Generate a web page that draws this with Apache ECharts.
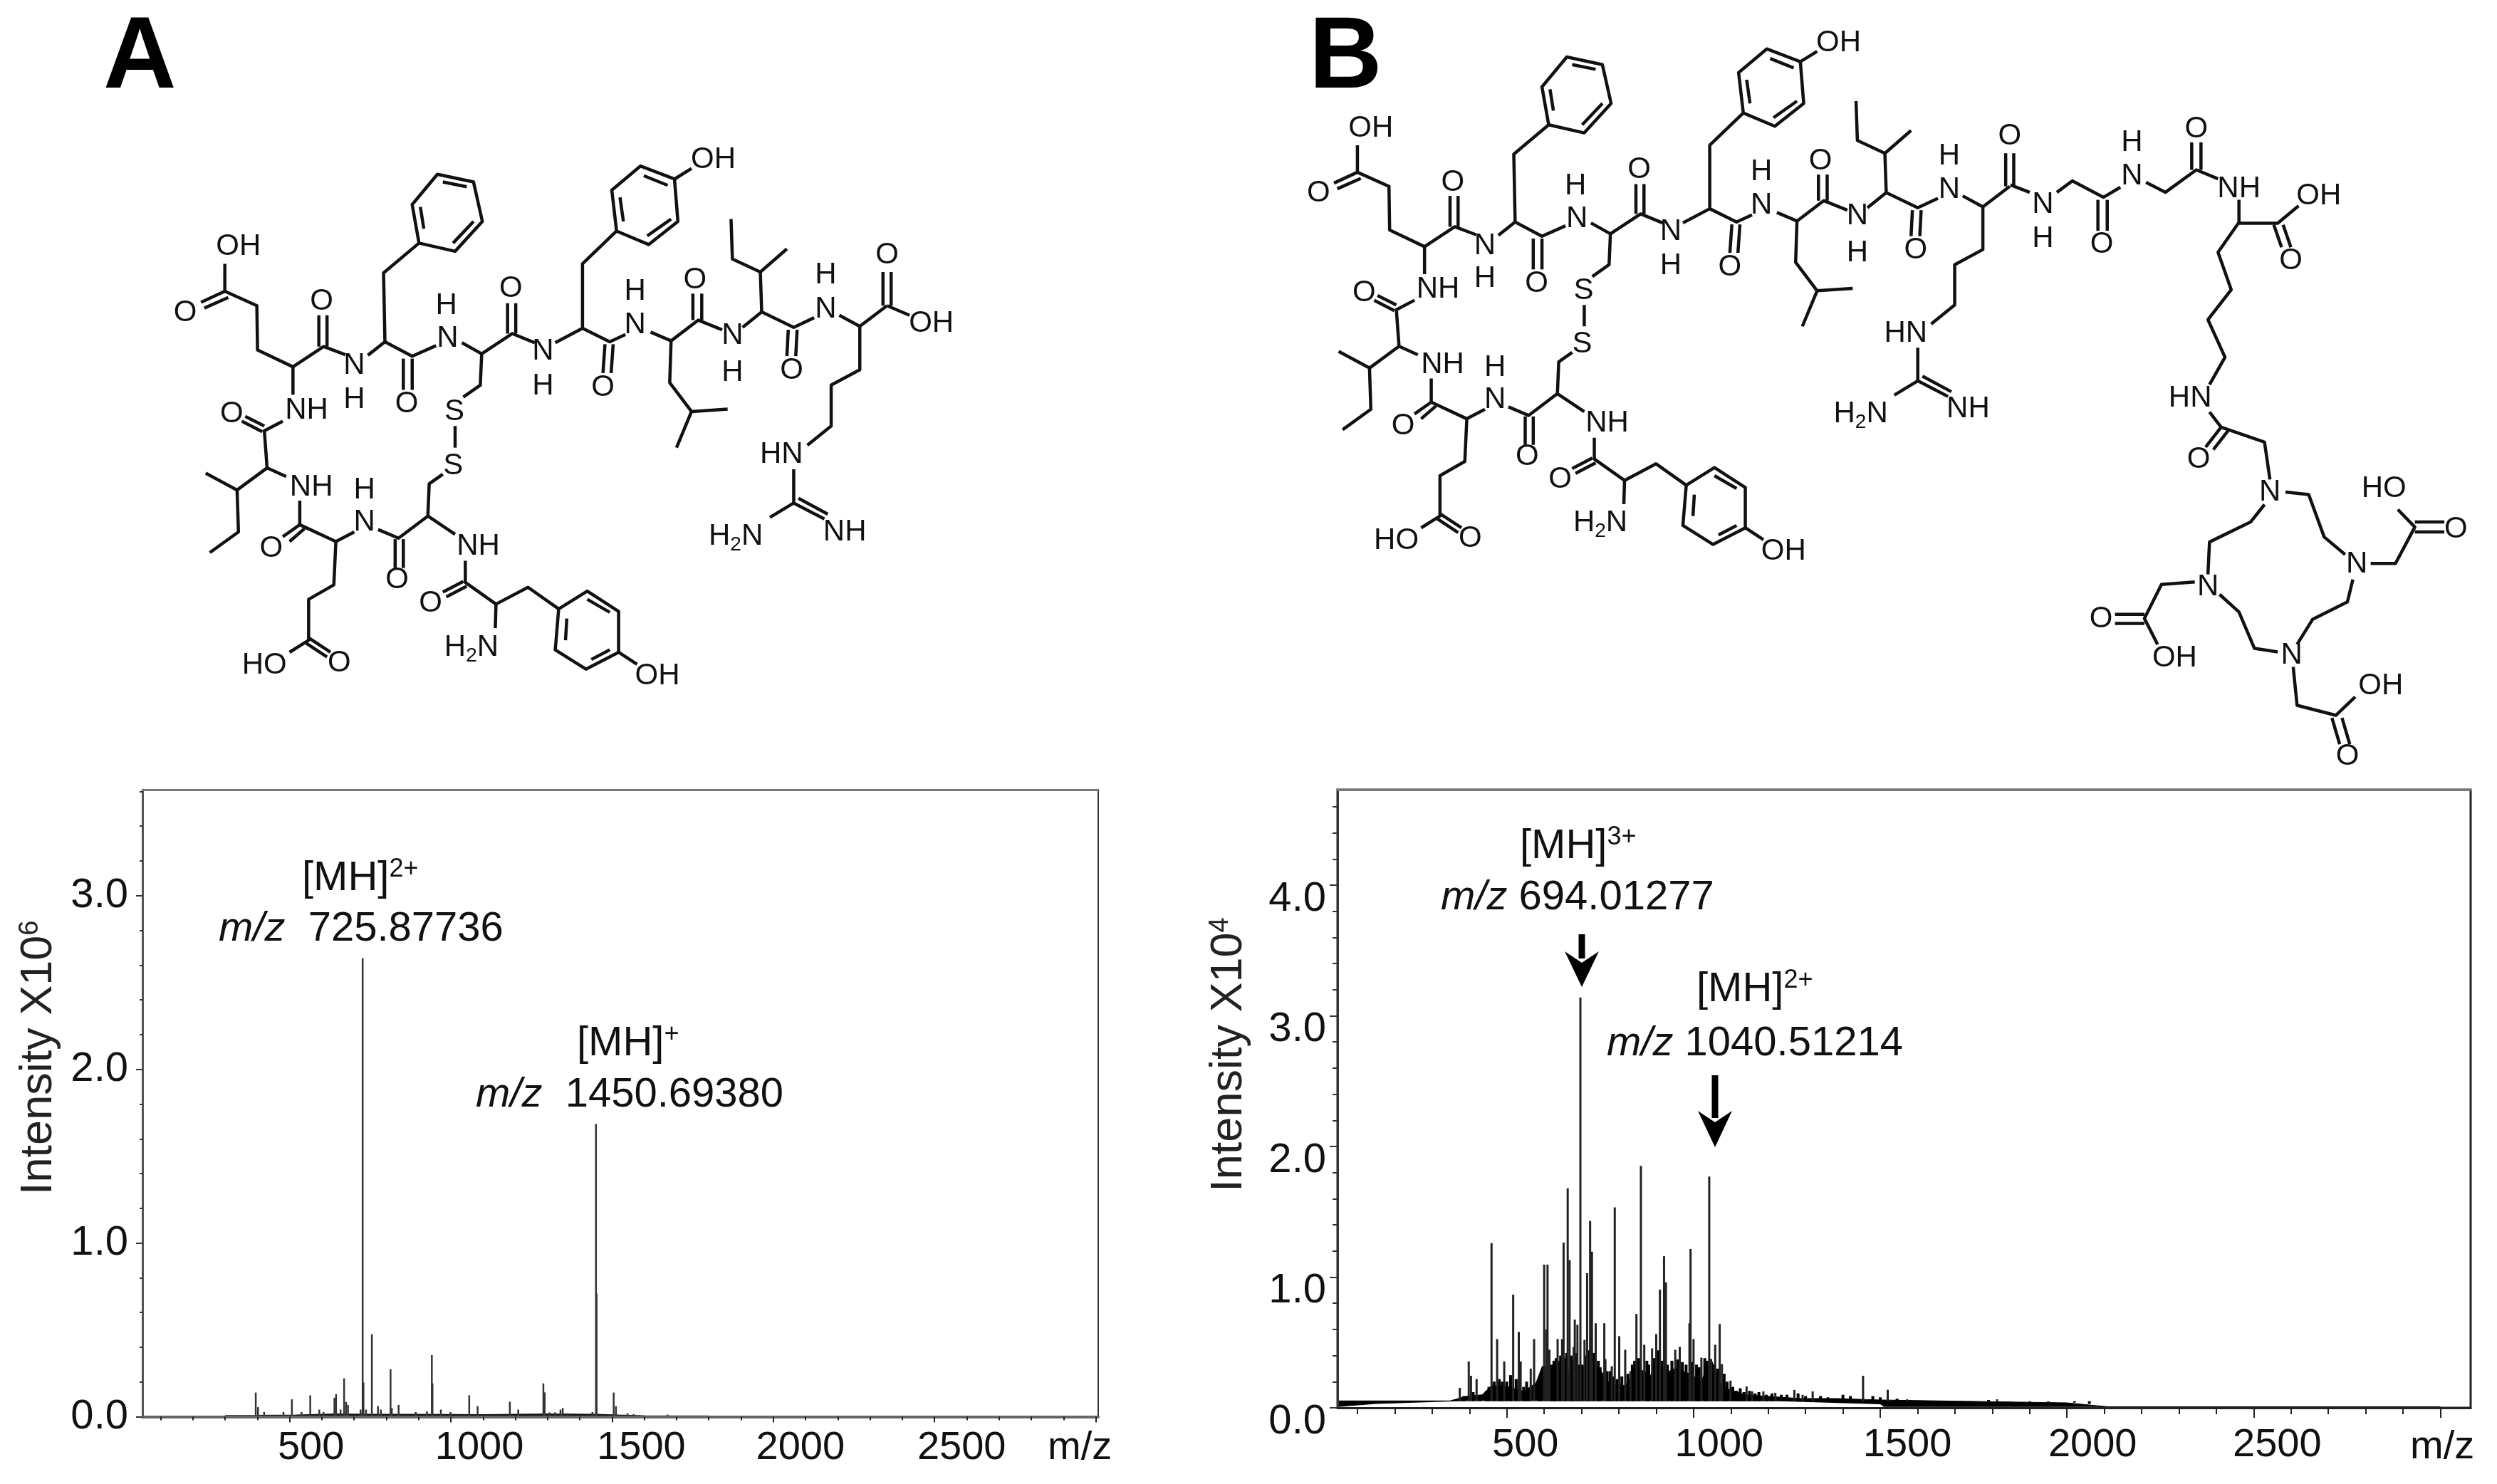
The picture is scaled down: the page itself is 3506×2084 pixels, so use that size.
<!DOCTYPE html>
<html style="height: 100%">
<head>
    <meta charset="utf-8">
    <style>html, body { margin: 0; background: #fff; }</style>
</head>
<body>
<div id="container" style="width: 3506px; height: 2084px"></div>
<script src="https://cdn.jsdelivr.net/npm/echarts@6/dist/echarts.min.js"></script>
<script type="text/javascript">
    // tick labels
    var xTickLabels = [500, 1000, 1500, 2000, 2500];
    var yTickLabelsA = [0, 1, 2, 3];
    var yTickLabelsB = [0, 1, 2, 3, 4];

    // panel A spectrum: m/z and intensity (x10^6)
    var mzA = [395, 402, 421, 481, 507, 537, 564, 592, 605, 639, 644, 658, 669, 675, 681, 720, 726.5, 729, 737, 755, 774, 783, 813, 817, 838, 891, 926, 941, 943, 969, 999, 1057, 1083, 1183, 1209, 1287, 1291, 1306, 1323, 1340, 1347, 1362, 1439, 1450, 1452, 1505, 1512, 1548, 1567, 1672];
    var intensityA = [0.139, 0.055, 0.027, 0.027, 0.10, 0.027, 0.123, 0.041, 0.027, 0.109, 0.13, 0.041, 0.221, 0.085, 0.068, 0.041, 2.64, 0.197, 0.041, 0.475, 0.061, 0.041, 0.273, 0.05, 0.068, 0.027, 0.03, 0.355, 0.192, 0.041, 0.027, 0.123, 0.061, 0.086, 0.041, 0.192, 0.14, 0.025, 0.025, 0.041, 0.05, 0.02, 0.027, 1.685, 0.709, 0.139, 0.06, 0.02, 0.015, 0.012];
    var noiseMzA = [300, 400, 520, 640, 760, 900, 1100, 1300, 1450, 1520, 1600, 1800];
    var noiseA = [0.003, 0.004, 0.006, 0.012, 0.01, 0.01, 0.008, 0.012, 0.01, 0.006, 0.002, 0.001];

    // panel B spectrum: m/z and intensity (x10^4)
    var mzB = [374, 398, 404, 419, 459, 474, 493, 517, 532, 537, 564, 573, 600, 606, 609, 614, 636, 648, 652, 663, 668, 679, 682, 689, 697, 708, 715, 723, 728, 738, 761, 764, 781, 789, 801, 817, 831, 847, 859, 868, 889, 900, 910, 921, 926, 951, 963, 989, 992, 1000, 1021, 1042, 1047, 1058, 1070, 1076, 1099, 1142, 1157, 1187, 1219, 1270, 1292, 1319, 1454, 1520, 1572, 1813, 1845];
    var intensityB = [0.153, 0.355, 0.245, 0.22, 1.26, 0.526, 0.355, 0.866, 0.58, 0.355, 0.30, 0.526, 1.096, 0.60, 1.096, 0.445, 0.526, 0.526, 1.265, 1.68, 1.13, 0.465, 0.675, 0.635, 3.14, 0.52, 1.03, 1.43, 1.195, 0.647, 0.647, 0.373, 0.318, 1.534, 0.548, 0.444, 0.28, 0.718, 1.852, 0.482, 0.455, 0.564, 0.904, 1.16, 0.96, 0.444, 0.466, 0.647, 1.216, 0.526, 0.384, 1.77, 0.373, 0.482, 0.641, 0.334, 0.208, 0.164, 0.126, 0.126, 0.115, 0.137, 0.099, 0.126, 0.245, 0.138, 0.065, 0.065, 0.04];
    // short peaks that make up the jagged top of the noise mass
    var grassMzB = [385, 410, 428, 445, 452, 466, 480, 488, 500, 510, 525, 545, 553, 558, 585, 592, 620, 626, 632, 640, 644, 656, 660, 672, 676, 686, 692, 702, 712, 718, 732, 745, 750, 768, 776, 786, 795, 808, 824, 836, 842, 853, 875, 880, 895, 906, 915, 930, 942, 958, 970, 980, 995, 1008, 1015, 1030, 1036, 1052, 1065, 1082, 1090, 1105, 1115, 1125, 1135, 1150, 1165, 1175, 1195, 1210, 1235, 1250, 1280, 1300, 1340, 1360, 1400, 1420, 1480, 1500, 1545, 1600, 1650, 1700, 1750, 1790, 1900, 1950, 2020, 2060];
    var grassB = [0.09, 0.12, 0.1, 0.13, 0.16, 0.2, 0.22, 0.2, 0.2, 0.25, 0.22, 0.16, 0.2, 0.15, 0.21, 0.26, 0.33, 0.36, 0.38, 0.36, 0.4, 0.38, 0.42, 0.4, 0.36, 0.42, 0.33, 0.33, 0.4, 0.44, 0.42, 0.36, 0.31, 0.28, 0.28, 0.24, 0.22, 0.24, 0.26, 0.33, 0.36, 0.38, 0.36, 0.33, 0.38, 0.44, 0.36, 0.33, 0.36, 0.37, 0.35, 0.33, 0.35, 0.33, 0.31, 0.38, 0.36, 0.33, 0.3, 0.26, 0.2, 0.16, 0.13, 0.15, 0.12, 0.13, 0.11, 0.12, 0.1, 0.11, 0.1, 0.1, 0.11, 0.09, 0.09, 0.08, 0.1, 0.09, 0.09, 0.08, 0.07, 0.055, 0.05, 0.05, 0.05, 0.06, 0.045, 0.045, 0.04, 0.03];
    // black noise band under the peaks
    var bandMzB = [47, 348, 391, 434, 459, 502, 544, 578, 595, 629, 646, 698, 723, 757, 774, 817, 851, 885, 902, 936, 953, 987, 1021, 1047, 1072, 1098, 1140, 1200, 1285, 1386, 1500, 2000, 2080, 2110, 3000];
    var bandTopB = [0.053, 0.053, 0.088, 0.099, 0.17, 0.163, 0.126, 0.19, 0.318, 0.307, 0.30, 0.275, 0.373, 0.263, 0.19, 0.17, 0.307, 0.247, 0.373, 0.28, 0.307, 0.263, 0.208, 0.373, 0.19, 0.137, 0.099, 0.088, 0.071, 0.071, 0.06, 0.038, 0.016, 0.008, 0.008];
    var bandLowMzB = [47, 150, 400, 1230, 1500, 1510, 2080, 2110, 3000];
    var bandLowB = [0.007, 0.03, 0.053, 0.05, 0.027, 0.007, 0.007, 0, 0];

    // bonds of the peptide, in a 1568x1568 tracing of panel A
    var peptideBonds = [
        [330,548,330,605,377,635,378,727,430,762,475,720,507,737], [295,628,330,605], [300,640,335,618],
        [468,655,468,720], [480,655,480,720], [430,762,430,820],
        [540,738,565,710,605,740,640,718], [565,710,563,567,615,505],
        [615,505,605,425,642,362,695,378,708,460,668,522,615,505], [622,475,617,430], [650,378,685,388], [695,460,665,505],
        [592,745,592,810], [605,745,605,810],
        [678,712,707,735,752,693,785,712], [745,630,745,693], [757,630,757,693],
        [707,735,705,800,680,825], [668,885,668,930], [650,985,630,1005,628,1072],
        [815,712,855,682,895,710,918,695], [855,682,855,548,905,480],
        [905,480,898,395,940,345,990,372,995,460,952,508,905,480], [915,460,910,410], [945,365,980,385], [985,455,950,490], [990,372,1015,350],
        [888,715,885,775], [900,715,897,775],
        [955,690,985,708,1025,665,1060,685], [1017,610,1017,665], [1030,610,1030,665],
        [985,708,983,795,1015,855,1068,850], [1015,855,993,930],
        [1090,680,1118,648,1165,680,1195,660], [1118,648,1116,565,1075,538,1073,455], [1116,565,1155,517],
        [1157,685,1155,740], [1170,685,1168,740],
        [1232,655,1262,678,1302,635], [1296,565,1296,635], [1308,565,1308,635],
        [1262,678,1262,768,1220,800,1220,885,1185,925], [1165,975,1165,1045,1130,1075], [1165,1045,1210,1078], [1172,1035,1215,1068],
        [415,875,388,895,392,972,420,990], [360,865,388,885], [355,875,385,897],
        [392,972,348,1018,302,983], [348,1018,350,1105,308,1148],
        [440,1040,440,1090,493,1125,520,1105], [440,1090,415,1115], [447,1098,425,1125],
        [493,1125,490,1215,453,1245,453,1330,425,1355], [453,1325,485,1355], [448,1335,480,1365],
        [555,1100,585,1118,628,1072,668,1110], [580,1120,580,1180], [592,1120,592,1180],
        [683,1165,683,1210,728,1255,775,1220,820,1265], [650,1230,680,1208], [655,1240,685,1218], [728,1255,727,1305],
        [820,1265,815,1350,860,1390,908,1355,908,1270,862,1228,820,1265], [830,1330,832,1285], [862,1245,895,1272], [868,1370,895,1350], [908,1355,935,1380]
    ];
    var peptideAtoms = [
        ['OH',350,513], ['O',272,650], ['O',472,627], ['N',520,760], ['H',520,830], ['NH',450,852],
        ['O',597,840], ['N',657,703], ['H',655,635], ['O',750,600], ['N',797,730], ['H',797,802],
        ['S',667,855], ['S',665,968], ['OH',1047,332], ['O',885,805], ['N',932,675], ['H',932,605],
        ['O',1020,582], ['N',1075,698], ['H',1075,775], ['O',1162,770], ['N',1212,642], ['H',1212,572],
        ['O',1302,530], ['HN',1147,945], ['NH',1240,1105], ['H{sub|2}N',1080,1115],
        ['O',340,860], ['NH',457,1012], ['O',398,1140], ['N',535,1085], ['H',535,1018],
        ['O',498,1378], ['HO',388,1382], ['O',583,1205], ['NH',702,1135], ['O',632,1253],
        ['H{sub|2}N',692,1345], ['OH',965,1405]
    ];
    // only panel A ends in a free acid
    var acidBondsA = [[1302,635,1335,655]];
    var acidAtomsA = [['OH',1367,672]];

    // Gly-Gly-Lys-DOTA arm, in a 1568x1568 tracing of panel B
    var linkerBonds = [
        [940,370,965,385], [1000,385,1020,362,1060,395,1082,375], [1053,400,1053,462], [1065,400,1065,462],
        [1115,365,1140,385,1180,340,1208,358], [1174,285,1174,340], [1186,285,1186,340],
        [1235,400,1235,445,1208,505,1225,580,1195,640,1217,715,1197,770], [1235,447,1285,447,1312,412],
        [1280,450,1290,495], [1292,450,1302,495],
        [1197,825,1212,855,1268,885,1275,960], [1212,855,1192,895], [1222,860,1202,900],
        [1295,985,1325,990,1345,1075,1372,1110], [1382,1160,1375,1205,1330,1240,1310,1290],
        [1285,1305,1255,1298,1235,1225,1210,1190], [1195,1150,1197,1085,1250,1045,1268,1010],
        [1405,1128,1437,1128,1462,1055,1440,1020], [1462,1045,1500,1045], [1462,1065,1500,1065],
        [1178,1165,1135,1170,1113,1238,1130,1290], [1075,1230,1113,1230], [1075,1248,1113,1248],
        [1305,1335,1310,1412,1360,1432,1385,1395], [1355,1437,1365,1490], [1368,1437,1378,1490]
    ];
    var linkerAtoms = [
        ['N',982,410], ['H',982,478], ['O',1058,490], ['N',1097,352], ['H',1097,285], ['O',1180,258],
        ['NH',1235,378], ['OH',1338,392], ['O',1302,522], ['HN',1172,797], ['O',1183,920],
        ['N',1275,985], ['N',1387,1130], ['N',1303,1312], ['N',1195,1175],
        ['HO',1422,978], ['O',1515,1060], ['O',1057,1240], ['OH',1152,1318], ['OH',1418,1373], ['O',1375,1515]
    ];

    var FONT = 'Liberation Sans';
    var dom = document.getElementById('container');
    var myChart = echarts.init(dom);

    function toA(p) { return [p[0] * 0.9566, p[1] * 0.676]; }
    function toBPeptide(p) { var a = toA(p); return [a[0] * 0.985 + 1595, a[1] * 0.985 - 161]; }
    function toBLinker(p) { return [1800 + p[0] * 1.088, p[1] * 0.7015]; }

    function drawBonds(bonds, map) {
        return bonds.map(function (b) {
            var pts = [];
            for (var i = 0; i < b.length; i += 2) {
                pts.push(map([b[i], b[i + 1]]));
            }
            return {
                type: 'polyline', silent: true,
                shape: { points: pts },
                style: { stroke: '#111', lineWidth: 4.5, fill: null, lineJoin: 'round' }
            };
        });
    }
    function drawAtoms(atoms, map) {
        return atoms.map(function (a) {
            var p = map([a[1], a[2]]);
            return {
                type: 'text', silent: true, x: p[0], y: p[1],
                style: {
                    text: a[0], fontFamily: FONT, fontSize: 42, fill: '#111', align: 'center', verticalAlign: 'middle',
                    rich: { sub: { fontFamily: FONT, fontSize: 28, fill: '#111', padding: [24, 0, 0, 0] } }
                }
            };
        });
    }
    // peak annotation, x is the left edge of the text
    function note(text, x, y) {
        return {
            type: 'text', silent: true, x: x, y: y,
            style: {
                text: text, fontFamily: FONT, fontSize: 58, fill: '#111', align: 'left', verticalAlign: 'middle',
                rich: {
                    sup: { fontFamily: FONT, fontSize: 36, fill: '#111', padding: [0, 0, 26, 0] },
                    it: { fontFamily: FONT, fontSize: 58, fontStyle: 'italic', fill: '#111' }
                }
            }
        };
    }
    function arrow(x, y1, y2, headTop) {
        return [
            { type: 'line', silent: true, shape: { x1: x, y1: y1, x2: x, y2: headTop + 10 }, style: { stroke: '#000', lineWidth: 9 } },
            { type: 'polygon', silent: true, shape: { points: [[x - 24, headTop], [x, headTop + 16], [x + 24, headTop], [x, y2]] }, style: { fill: '#000' } }
        ];
    }
    function panelTitle(text, x, y) {
        return {
            type: 'text', silent: true, x: x, y: y,
            style: { text: text, fontFamily: FONT, fontWeight: 'bold', fontSize: 142, fill: '#000', align: 'left', verticalAlign: 'middle' }
        };
    }

    function range(from, to, step) {
        var out = [];
        for (var v = from; v <= to + 1e-9; v += step) {
            out.push(Math.round(v * 10) / 10);
        }
        return out;
    }
    function toPairs(xs, ys) {
        return xs.map(function (x, i) { return [x, ys[i]]; });
    }

    // axes of one panel: the first of each kind carries minor ticks and labels, the second only major ticks
    function xAxesOf(grid, min, max, cfg) {
        var rich = {};
        xTickLabels.forEach(function (v, i) {
            rich['p' + v] = { fontFamily: FONT, fontSize: 56, color: '#111', padding: [0, 0, 0, cfg.shift[i] * 2] };
        });
        return [{
            type: 'value', gridIndex: grid, min: min, max: max, position: 'bottom', z: 10,
            name: '{n|m/z}', nameLocation: 'end', nameGap: cfg.nameGap, nameMoveOverlap: false,
            nameTextStyle: {
                rich: { n: { fontFamily: FONT, fontSize: 56, color: '#111', padding: [cfg.namePad, 0, 0, 0] } }
            },
            splitLine: { show: false },
            axisLine: { onZero: false, lineStyle: { color: cfg.lineColor, width: cfg.lineWidth } },
            axisTick: { length: cfg.minorLen, customValues: range(100, 3000, 100), lineStyle: { color: '#222', width: 2 } },
            axisLabel: {
                customValues: xTickLabels, margin: cfg.margin, hideOverlap: false,
                fontFamily: FONT, fontSize: 56, color: '#111',
                formatter: function (v) { return '{p' + v + '|' + v + '}'; }, rich: rich
            }
        }, {
            type: 'value', gridIndex: grid, min: min, max: max, position: 'bottom', z: 10,
            splitLine: { show: false }, axisLine: { show: false, onZero: false }, axisLabel: { show: false },
            axisTick: { length: cfg.majorLen, customValues: [500, 1000, 1500, 2000, 2500, 3000], lineStyle: { color: '#222', width: 2 } }
        }, {
            type: 'value', gridIndex: grid, min: min, max: max, position: 'top', z: 10,
            splitLine: { show: false }, axisTick: { show: false }, axisLabel: { show: false },
            axisLine: { onZero: false, lineStyle: { color: '#777', width: 3 } }
        }];
    }
    function yAxesOf(grid, max, labels, cfg) {
        return [{
            type: 'value', gridIndex: grid, min: 0, max: max, position: 'left', z: 10,
            name: '{t|Intensity X10}{s|' + cfg.power + '}', nameLocation: 'middle', nameGap: cfg.nameGap, nameRotate: 90,
            nameMoveOverlap: false,
            nameTextStyle: {
                padding: [0, 0, 0, cfg.nameShift * 2],
                rich: {
                    t: { fontFamily: FONT, fontSize: 63, color: '#222' },
                    s: { fontFamily: FONT, fontSize: 38, color: '#222', padding: [0, 0, 24, 0] }
                }
            },
            splitLine: { show: false },
            axisLine: { onZero: false, lineStyle: { color: cfg.lineColor, width: 3 } },
            axisTick: { length: cfg.minorLen, customValues: range(0, max, 0.2), lineStyle: { color: '#333', width: 2 } },
            axisLabel: {
                customValues: labels, margin: cfg.margin, fontFamily: FONT, fontSize: 58, color: '#111',
                formatter: function (v) { return '{d|' + v.toFixed(1) + '}'; },
                rich: { d: { fontFamily: FONT, fontSize: 58, color: '#111', padding: [cfg.labelDrop * 2, 0, 0, 0] } }
            }
        }, {
            type: 'value', gridIndex: grid, min: 0, max: max, position: 'left', z: 10,
            splitLine: { show: false }, axisLine: { show: false, onZero: false }, axisLabel: { show: false },
            axisTick: { length: cfg.majorLen, customValues: labels, lineStyle: { color: '#333', width: 2 } }
        }];
    }

    function stickSeries(xIndex, yIndex, data, base, width, color) {
        return {
            type: 'custom', xAxisIndex: xIndex, yAxisIndex: yIndex, z: 5,
            data: data,
            encode: { x: 0, y: 1 },
            renderItem: function (params, api) {
                var top = api.coord([api.value(0), api.value(1)]);
                var foot = api.coord([api.value(0), base]);
                return {
                    type: 'line',
                    shape: { x1: top[0], y1: top[1], x2: foot[0], y2: foot[1] },
                    style: { stroke: color, lineWidth: width }
                };
            }
        };
    }

    var graphics = [panelTitle('A', 145, 84), panelTitle('B', 1838, 84)]
        .concat(drawBonds(peptideBonds, toA), drawBonds(acidBondsA, toA))
        .concat(drawAtoms(peptideAtoms, toA), drawAtoms(acidAtomsA, toA))
        .concat(drawBonds(peptideBonds, toBPeptide), drawAtoms(peptideAtoms, toBPeptide))
        .concat(drawBonds(linkerBonds, toBLinker), drawAtoms(linkerAtoms, toBLinker))
        .concat([
            note('[MH]{sup|2+}', 424, 1234),
            note('{it|m/z}  725.87736', 307, 1305),
            note('[MH]{sup|+}', 810, 1466),
            note('{it|m/z}  1450.69380', 668, 1538),
            note('[MH]{sup|3+}', 2134, 1189),
            note('{it|m/z} 694.01277', 2023, 1261),
            note('[MH]{sup|2+}', 2382, 1390),
            note('{it|m/z} 1040.51214', 2256, 1466)
        ])
        .concat(arrow(2221, 1312, 1386, 1336), arrow(2408, 1510, 1611, 1560));

    var option = {
        animation: false,
        backgroundColor: '#fff',
        graphic: graphics,
        grid: [
            { left: 200, top: 1109, width: 1342, height: 880.5, show: true, borderColor: '#333', borderWidth: 2, outerBoundsMode: 'none' },
            { left: 1878, top: 1109, width: 1591, height: 868, show: true, borderColor: '#222', borderWidth: 3, outerBoundsMode: 'none' }
        ],
        xAxis: xAxesOf(0, 43.6, 3007.6, {
            shift: [30, 40, 41, 38, 38], margin: 16, minorLen: 5, majorLen: 8,
            lineColor: '#666', lineWidth: 4, nameGap: -71, namePad: 88
        }).concat(xAxesOf(1, 46.6, 3081, {
            shift: [26, 36, 38, 36, 33], margin: 25, minorLen: 9, majorLen: 14,
            lineColor: '#222', lineWidth: 3, nameGap: -85, namePad: 112
        })),
        yAxis: yAxesOf(0, 3.61, yTickLabelsA, {
            power: 6, nameGap: 114, nameShift: 64, lineColor: '#555', minorLen: 4, majorLen: 9, margin: 20, labelDrop: 0
        }).concat(yAxesOf(1, 4.73, yTickLabelsB, {
            power: 4, nameGap: 121, nameShift: 62, lineColor: '#333', minorLen: 7, majorLen: 11, margin: 16, labelDrop: 20
        })),
        series: [
            stickSeries(0, 0, toPairs(mzA, intensityA), 0, 2.5, '#333'),
            {
                type: 'line', xAxisIndex: 0, yAxisIndex: 0, z: 4, showSymbol: false,
                data: toPairs(noiseMzA, noiseA),
                lineStyle: { color: '#111', width: 3 }
            },
            {
                type: 'line', xAxisIndex: 3, yAxisIndex: 2, z: 2, showSymbol: false,
                data: toPairs(bandMzB, bandTopB),
                lineStyle: { color: '#000', width: 1 },
                areaStyle: { color: '#000', opacity: 1 }
            },
            {
                type: 'line', xAxisIndex: 3, yAxisIndex: 2, z: 3, showSymbol: false,
                data: toPairs(bandLowMzB, bandLowB),
                lineStyle: { color: '#fff', width: 0 },
                areaStyle: { color: '#fff', opacity: 1 }
            },
            stickSeries(3, 2, toPairs(grassMzB, grassB), 0.05, 4, '#000'),
            stickSeries(3, 2, toPairs(mzB, intensityB), 0.05, 3, '#222')
        ]
    };

    myChart.setOption(option);
</script>
</body>
</html>
